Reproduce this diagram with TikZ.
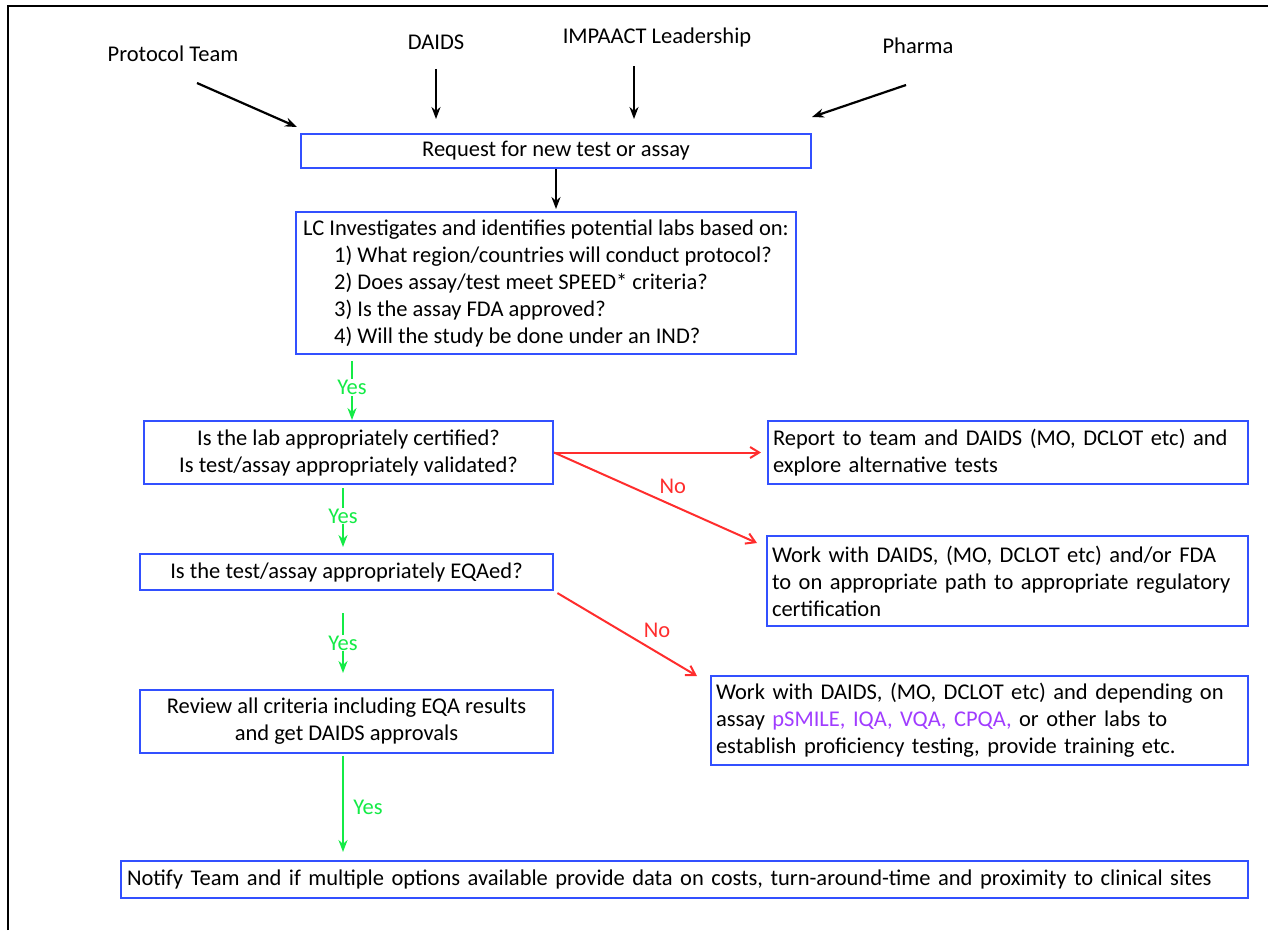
\documentclass[tikz,border=0pt]{standalone}
\usepackage{fontspec}
\setmainfont{Carlito}
\usetikzlibrary{arrows.meta}

\definecolor{boxblue}{RGB}{50,80,255}
\definecolor{yesgreen}{RGB}{20,235,70}
\definecolor{nored}{RGB}{255,45,45}
\definecolor{labpurple}{RGB}{160,60,255}

\tikzset{
  every node/.style={font=\fontsize{22.5}{27}\selectfont},
  stepbox/.style={draw=boxblue, line width=2pt, inner sep=4pt, align=center},
  leftbox/.style={stepbox, align=left, inner sep=5pt},
  blackarrow/.style={-{Stealth[length=12pt, width=9pt]}, line width=2.2pt},
  yesarrow/.style={-{Stealth[length=12pt, width=9pt]}, draw=yesgreen, line width=2pt},
  noarrow/.style={-{Straight Barb[length=9pt, width=11pt]}, draw=nored, line width=2pt},
  yeslabel/.style={text=yesgreen, fill=white, inner sep=1pt},
  nolabel/.style={text=nored, inner sep=3pt}
}

\begin{document}
\begin{tikzpicture}[x=1pt, y=-1pt]
    \useasboundingbox (0,0) rectangle (1268,930);
    \draw [line width=2pt] (8,930) -- (8,6) -- (1268,6);

    % who asks
    \node (proto) at (173, 54) {Protocol Team};
    \node (daids) at (436, 42) {DAIDS};
    \node (impaact) at (657, 37) {IMPAACT Leadership};
    \node (pharma) at (918, 46) {Pharma};

    \node [stepbox, minimum width=510pt, minimum height=34pt] (request) at (556, 151) {Request for new test or assay};

    \coordinate (protoStart) at (197, 83);
    \coordinate (protoEnd) at (297, 127);
    \coordinate (pharmaStart) at (906, 85);
    \coordinate (pharmaEnd) at (812, 117);

    \draw [blackarrow] (protoStart) -- (protoEnd);
    \draw [blackarrow, shorten <=16pt, shorten >=14pt] (daids) -- (daids |- request.north);
    \draw [blackarrow, shorten <=16pt, shorten >=15pt] (impaact.south -| 634,0) -- (634,134);
    \draw [blackarrow] (pharmaStart) -- (pharmaEnd);

    % investigation
    \node [stepbox, align=left, minimum width=500pt, minimum height=142pt] (lc) at (546, 283) {LC Investigates and identifies potential labs based on:\\
        \hspace*{31pt}1) What region/countries will conduct protocol?\\
        \hspace*{31pt}2) Does assay/test meet SPEED* criteria?\\
        \hspace*{31pt}3) Is the assay FDA approved?\\
        \hspace*{31pt}4) Will the study be done under an IND?};

    \draw [blackarrow, shorten >=2pt] (request.south) -- (request.south |- lc.north);

    % main column
    \node [stepbox, minimum width=409pt, minimum height=63pt] (cert) at (348.5, 452.5) {Is the lab appropriately certified?\\Is test/assay appropriately validated?};
    \node [stepbox, minimum width=413pt, minimum height=36pt] (eqa) at (346.5, 572) {Is the test/assay appropriately EQAed?};
    \node [stepbox, minimum width=413pt, minimum height=63pt] (review) at (346.5, 721.5) {Review all criteria including EQA results\\and get DAIDS approvals};
    \node [leftbox, text width=1115pt, inner sep=6pt, minimum height=37pt] (notify) at (684.5, 879.5) {Notify Team and if multiple options available provide data on costs, turn-around-time and proximity to clinical sites};

    % side column
    \node [leftbox, text width=470pt, minimum height=63pt] (report) at (1008, 452.5) {Report to team and DAIDS (MO, DCLOT etc) and\\explore alternative tests};
    \node [leftbox, text width=471pt, minimum height=90pt] (work1) at (1007.5, 581) {Work with DAIDS, (MO, DCLOT etc) and/or FDA\\to on appropriate path to appropriate regulatory\\certification};
    \node [leftbox, text width=527pt, minimum height=89pt] (work2) at (979.5, 720.5) {Work with DAIDS, (MO, DCLOT etc) and depending on\\assay \textcolor{labpurple}{pSMILE, IQA, VQA, CPQA,} or other labs to\\establish proficiency testing, provide training etc.};

    % yes
    \draw [yesarrow, shorten <=6pt] (lc.south -| 352,0) -- (352, 420) node [midway, yeslabel] {Yes};
    \draw [yesarrow, shorten <=3pt] (cert.south -| 343,0) -- (343, 547) node [midway, yeslabel] {Yes};
    \draw [yesarrow] (343, 613) -- (343, 673) node [midway, yeslabel] {Yes};
    \draw [yesarrow, shorten <=2pt, shorten >=8pt] (review.south -| 343,0) -- (notify.north -| 343,0) node [midway, right=6pt, text=yesgreen] {Yes};

    % no
    \coordinate (work1End) at (757, 543);
    \coordinate (work2End) at (697, 676);
    \draw [noarrow, shorten >=6pt] (cert.east) -- (report.west);
    \draw [noarrow] (cert.east) -- (work1End) node [pos=0.5, above right, nolabel] {No};
    \draw [noarrow, shorten <=4pt] (eqa.south east) -- (work2End) node [pos=0.6, above right, nolabel] {No};
\end{tikzpicture}
\end{document}
